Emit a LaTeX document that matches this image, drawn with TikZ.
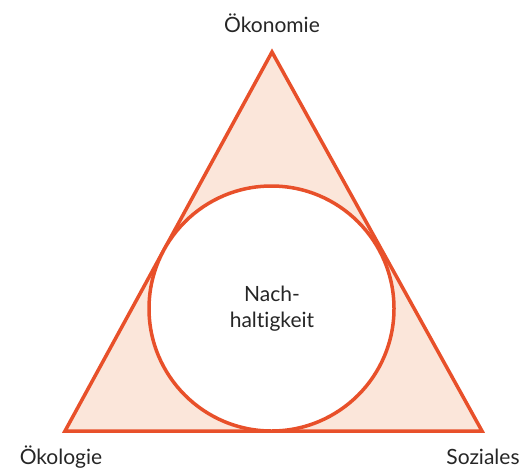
\documentclass[tikz,border=0pt]{standalone}
\usepackage{fontspec}
\setmainfont[Ligatures=NoCommon]{Lato}
\definecolor{tri}{HTML}{E8502A}
\definecolor{trifill}{HTML}{FBE6DA}
\begin{document}
\begin{tikzpicture}[x=1pt,y=-1pt,
  lbl/.style={font=\fontsize{21}{26}\selectfont, text=black!85, inner sep=0pt, align=center}]
\useasboundingbox (0,0) rectangle (532,471);
\coordinate (A) at (272,52);
\coordinate (L) at (65,431);
\coordinate (R) at (482,431);
\draw[tri, fill=trifill, line width=3.5pt, line join=miter] (A) -- (L) -- (R) -- cycle;
\node[circle, draw=tri, fill=white, line width=3.5pt, minimum size=245pt, inner sep=0pt] (C) at (271.5,308.5) {};
\node[lbl] (n) at (272,309) {Nach-\\haltigkeit};
\node[lbl] (oek) at (272,23) {Ökonomie};
\node[lbl] (oko) at (61,457) {Ökologie};
\node[lbl] (soz) at (483,457) {Soziales};
\end{tikzpicture}
\end{document}
